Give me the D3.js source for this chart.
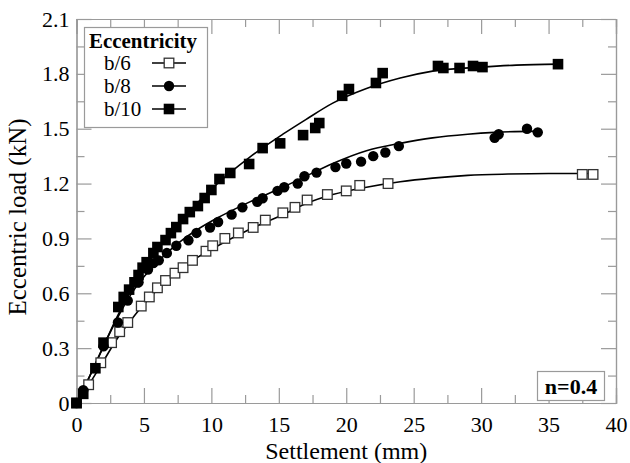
<!DOCTYPE html>
<html><head><meta charset="utf-8">
<script src="https://cdn.jsdelivr.net/npm/d3@7"></script>
<style>body{margin:0;background:#fff} svg{display:block}
svg text{font-family:"Liberation Serif","DejaVu Serif","Times New Roman",serif;}
</style>
</head><body>
<svg id="c" width="630" height="463"></svg>
<script>
// ---- data ----
const xMajorTicks = [0,5,10,15,20,25,30,35,40];
const xMinorTicks = [2.5,7.5,12.5,17.5,22.5,27.5,32.5,37.5];
const yMajorTicks = [0,0.3,0.6,0.9,1.2,1.5,1.8,2.1];
const yTickLabels = ["0","0.3","0.6","0.9","1.2","1.5","1.8","2.1"];
const yMinorTicks = [0.15,0.45,0.75,1.05,1.35,1.65,1.95];

const seriesNames = ["b/6","b/8","b/10"];

// b/6 measured (open squares)
const b6S = [0,0.9,1.8,2.6,3.2,3.8,4.8,5.4,6.0,6.6,7.3,7.9,8.6,9.6,10.1,11.0,12.0,13.1,14.0,15.3,16.2,17.1,18.6,20.0,21.0,23.1,37.5,38.3];
const b6L = [0,0.10,0.22,0.33,0.39,0.44,0.53,0.58,0.63,0.67,0.71,0.74,0.78,0.83,0.86,0.90,0.93,0.96,1.00,1.04,1.07,1.11,1.14,1.16,1.19,1.20,1.25,1.25];
// b/8 measured (filled circles)
const b8S = [0,0.5,2.0,3.07,3.8,4.6,5.3,5.7,6.1,6.7,7.4,8.3,8.9,9.9,10.5,11.5,12.3,13.4,13.8,14.9,15.4,16.4,16.9,17.8,19.2,20.0,21.1,22.0,22.9,23.9,31.0,31.3,33.4,34.2];
const b8L = [0,0.07,0.31,0.44,0.56,0.66,0.73,0.765,0.78,0.82,0.86,0.89,0.93,0.96,0.99,1.03,1.07,1.10,1.12,1.16,1.18,1.20,1.24,1.26,1.29,1.31,1.32,1.35,1.37,1.405,1.45,1.47,1.50,1.48];
// b/10 measured (filled squares)
const b10S = [0,0.5,1.4,2.0,3.1,3.5,3.9,4.3,4.6,4.9,5.2,5.7,6.0,6.6,7.0,7.4,7.9,8.4,9.0,9.5,10.0,10.6,11.4,12.8,13.8,15.1,16.8,17.7,18.0,19.7,20.2,22.2,22.7,26.8,27.2,28.4,29.4,30.1,35.7];
const b10L = [0,0.05,0.19,0.33,0.525,0.58,0.62,0.66,0.70,0.74,0.77,0.82,0.853,0.891,0.929,0.962,1.006,1.044,1.077,1.121,1.165,1.225,1.258,1.307,1.394,1.42,1.465,1.504,1.531,1.68,1.717,1.75,1.804,1.843,1.832,1.832,1.843,1.837,1.853];

// fitted trend curves
const fit6S = [0,1,2,3,4,5,6,7,8,10,12.85,15.3,17,19,21.5,24,26.4,29,32,35,38.5];
const fit6L = [0,0.11,0.23,0.35,0.45,0.54,0.62,0.69,0.75,0.84,0.95,1.03,1.09,1.14,1.18,1.21,1.23,1.245,1.252,1.255,1.255];
const fit8S = [0,1,2,3,4,5,6,7,8,9,10.4,12.85,15.3,17,19,21.5,24,26.4,29,31,34.2];
const fit8L = [0,0.15,0.31,0.46,0.59,0.69,0.77,0.84,0.90,0.95,1.01,1.10,1.18,1.24,1.31,1.38,1.42,1.45,1.47,1.48,1.487];
const fit10S = [0,1,2,3,4,5,6,7,8,10,12.85,15.3,17,19,21.5,24,26.4,30,32.6,35.7];
const fit10L = [0,0.15,0.31,0.47,0.61,0.73,0.84,0.94,1.02,1.17,1.345,1.47,1.55,1.64,1.72,1.777,1.815,1.837,1.848,1.853];

const annotation = "n=0.4";
const legendTitle = "Eccentricity";
const xTitle = "Settlement (mm)";
const yTitle = "Eccentric load (kN)";

// ---- drawing ----
const svg = d3.select("#c");
const W = 630, H = 463;
svg.append("rect").attr("width",W).attr("height",H).attr("fill","#fff");
const x = d3.scaleLinear().domain([0,40]).range([76.5,616]);
const y = d3.scaleLinear().domain([0,2.1]).range([403,19]);
const FONT = "Liberation Serif, DejaVu Serif, serif";
const axisColor = "#9a9a9a";

function styleAxis(g){
  g.attr("font-family",FONT);
  g.select(".domain").attr("stroke",axisColor).attr("stroke-width",1.2);
  g.selectAll(".tick line").attr("stroke",axisColor).attr("stroke-width",1.2);
  g.selectAll("text").attr("fill","#000").attr("font-size",22);
}
// bottom
svg.append("g").attr("transform",`translate(0,${y(0)})`)
  .call(d3.axisBottom(x).tickValues(xMajorTicks).tickFormat(d3.format("d")).tickSize(-15).tickPadding(13))
  .call(styleAxis);
svg.append("g").attr("transform",`translate(0,${y(0)})`)
  .call(d3.axisBottom(x).tickValues(xMinorTicks).tickFormat("").tickSize(-8))
  .call(styleAxis);
// top
svg.append("g").attr("transform",`translate(0,${y(2.1)})`)
  .call(d3.axisTop(x).tickValues(xMajorTicks).tickFormat("").tickSize(-15))
  .call(styleAxis);
svg.append("g").attr("transform",`translate(0,${y(2.1)})`)
  .call(d3.axisTop(x).tickValues(xMinorTicks).tickFormat("").tickSize(-8))
  .call(styleAxis);
// left
svg.append("g").attr("transform",`translate(${x(0)},0)`)
  .call(d3.axisLeft(y).tickValues(yMajorTicks).tickFormat((d,i)=>yTickLabels[i]).tickSize(-15).tickPadding(7))
  .call(styleAxis);
svg.append("g").attr("transform",`translate(${x(0)},0)`)
  .call(d3.axisLeft(y).tickValues(yMinorTicks).tickFormat("").tickSize(-8))
  .call(styleAxis);
// right
svg.append("g").attr("transform",`translate(${x(40)},0)`)
  .call(d3.axisRight(y).tickValues(yMajorTicks).tickFormat("").tickSize(-15))
  .call(styleAxis);
svg.append("g").attr("transform",`translate(${x(40)},0)`)
  .call(d3.axisRight(y).tickValues(yMinorTicks).tickFormat("").tickSize(-8))
  .call(styleAxis);

// titles
svg.append("text").attr("x",(x(0)+x(40))/2).attr("y",459).attr("text-anchor","middle")
  .attr("font-family",FONT).attr("font-size",24).text(xTitle);
svg.append("text").attr("transform",`translate(26,${(y(0)+y(2.1))/2+6}) rotate(-90)`)
  .attr("text-anchor","middle").attr("font-family",FONT).attr("font-size",25).text(yTitle);

// curves
const line = d3.line().x(d=>x(d[0])).y(d=>y(d[1])).curve(d3.curveMonotoneX);
const fits = [[fit6S,fit6L],[fit8S,fit8L],[fit10S,fit10L]];
fits.forEach(([s,l])=>{
  svg.append("path").datum(s.map((v,i)=>[v,l[i]])).attr("d",line)
    .attr("fill","none").attr("stroke","#000").attr("stroke-width",1.6);
});

// markers
function drawMarker(g, type, cx, cy){
  if(type===0){
    g.append("rect").attr("x",cx-4.8).attr("y",cy-4.8).attr("width",9.6).attr("height",9.6)
      .attr("fill","#fff").attr("stroke","#333").attr("stroke-width",1.3);
  } else if(type===1){
    g.append("circle").attr("cx",cx).attr("cy",cy).attr("r",5.2).attr("fill","#000");
  } else {
    g.append("rect").attr("x",cx-5.3).attr("y",cy-5.3).attr("width",10.6).attr("height",10.6).attr("fill","#000");
  }
}
const meas = [[b6S,b6L],[b8S,b8L],[b10S,b10L]];
const mg = svg.append("g");
meas.forEach(([s,l],k)=>{
  s.forEach((v,i)=>drawMarker(mg,k,x(v),y(l[i])));
});

// legend
const lg = svg.append("g");
lg.append("rect").attr("x",84.5).attr("y",27.5).attr("width",123).attr("height",100)
  .attr("fill","#fff").attr("stroke",axisColor).attr("stroke-width",1.2);
lg.append("text").attr("x",89).attr("y",48).attr("font-family",FONT).attr("font-weight","bold")
  .attr("font-size",21).attr("textLength",108).attr("lengthAdjust","spacingAndGlyphs").text(legendTitle);
const legY = [63,86,109];
seriesNames.forEach((n,k)=>{
  lg.append("text").attr("x",104).attr("y",legY[k]+7).attr("font-family",FONT).attr("font-size",21).text(n);
  lg.append("line").attr("x1",152).attr("x2",186).attr("y1",legY[k]).attr("y2",legY[k])
    .attr("stroke","#000").attr("stroke-width",1.5);
  drawMarker(lg,k,169,legY[k]);
});

// annotation
const ag = svg.append("g");
ag.append("rect").attr("x",537.5).attr("y",371.5).attr("width",67).attr("height",29)
  .attr("fill","#fff").attr("stroke",axisColor).attr("stroke-width",1.2);
ag.append("text").attr("x",571).attr("y",394).attr("text-anchor","middle").attr("font-family",FONT)
  .attr("font-weight","bold").attr("font-size",22).text(annotation);
</script></body></html>
